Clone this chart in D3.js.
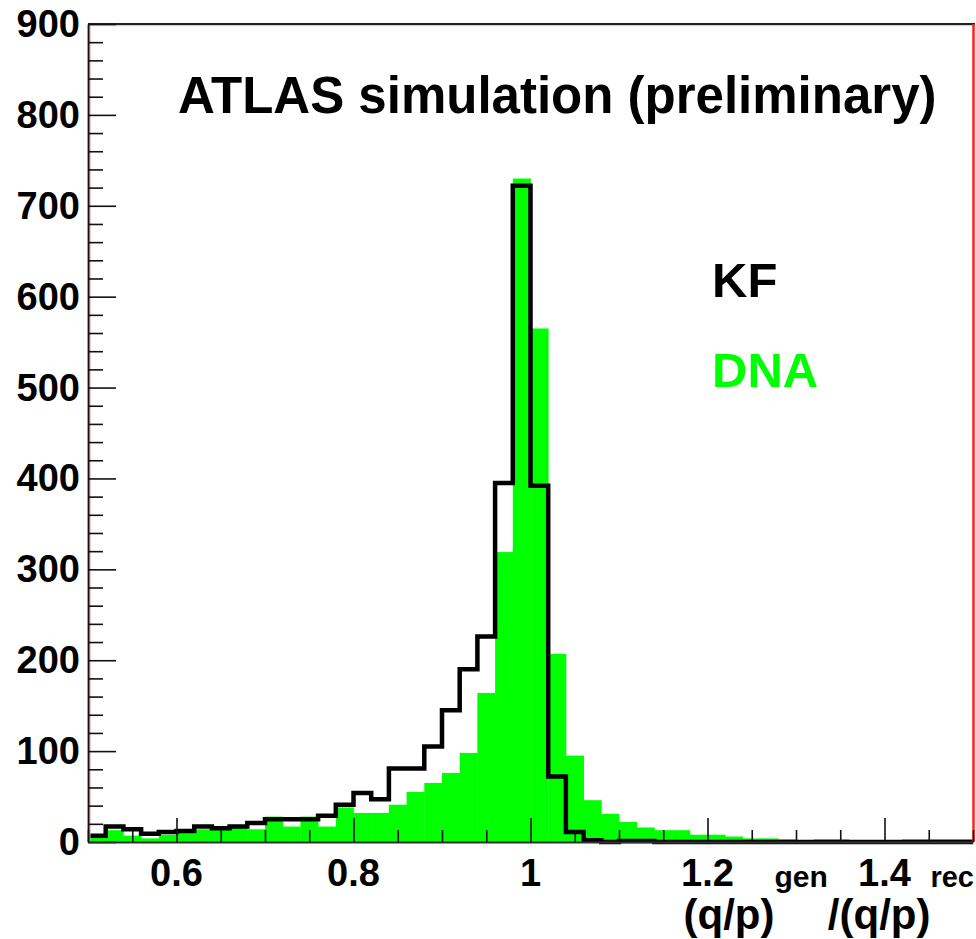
<!DOCTYPE html>
<html>
<head>
<meta charset="utf-8">
<script src="https://cdn.jsdelivr.net/npm/d3@7"></script>
<style>
  html, body { margin: 0; padding: 0; background: #fff; }
  svg { display: block; }
  text { font-family: "Liberation Sans", Arial, sans-serif; font-weight: bold; }
</style>
</head>
<body>
<svg id="chart" width="976" height="939"></svg>
<script>
// histogram binning: 50 bins of 0.02 between 0.5 and 1.5
var xDomain = [0.5, 1.5];
var yDomain = [0, 900];
var binLow = d3.range(50).map(function(i) { return +(0.5 + i * 0.02).toFixed(2); });
var binWidth = 0.02;

// KF (black outline) counts per bin
var kfCounts = [7, 17, 14, 9, 11, 12, 17, 15, 17, 21,
                25, 25, 25, 29, 41, 54, 47, 81, 81, 105,
                145, 190, 226, 395, 722, 392, 72, 11, 2, 0,
                1, 1, 0, 0, 0, 0, 0, 0, 0, 0,
                0, 0, 0, 0, 0, 0, 0, 0, 0, 0];

// DNA (green fill) counts per bin
var dnaCounts = [5, 13, 7, 4, 8, 13, 14, 15, 16, 14,
                 28, 17, 28, 17, 38, 32, 32, 41, 55, 65,
                 76, 98, 164, 319, 730, 565, 207, 95, 46, 31,
                 22, 16, 13, 13, 8, 8, 6, 4, 4, 3,
                 1, 3, 3, 1, 0, 1, 3, 3, 3, 3];

var xTickLabels = [0.6, 0.8, 1, 1.2, 1.4];
var yTickLabels = [0, 100, 200, 300, 400, 500, 600, 700, 800, 900];
var legendNames = ["KF", "DNA"];
var legendColors = ["#000000", "#00ff00"];

var cfg = {left: 88, right: 973, top: 24, bottom: 842};

var svg = d3.select("#chart");
var x = d3.scaleLinear().domain(xDomain).range([cfg.left, cfg.right]);
var y = d3.scaleLinear().domain(yDomain).range([cfg.bottom, cfg.top]);

// DNA filled bars
svg.append("g").selectAll("rect")
  .data(binLow)
  .enter().append("rect")
  .attr("x", function(d) { return x(d); })
  .attr("width", function(d) { return x(d + binWidth) - x(d) + 0.4; })
  .attr("y", function(d, i) { return y(dnaCounts[i]); })
  .attr("height", function(d, i) { return y(0) - y(dnaCounts[i]); })
  .attr("fill", "#00ff00");

// KF step outline
var kfPath = "";
binLow.forEach(function(d, i) {
  var yy = y(kfCounts[i]);
  kfPath += (i === 0 ? "M" + x(d) + "," + yy : "V" + yy) + "H" + x(d + binWidth);
});
svg.append("path")
  .attr("d", kfPath)
  .attr("fill", "none")
  .attr("stroke", "#000")
  .attr("stroke-width", 4.5)
  .attr("stroke-linejoin", "miter");

// frame
svg.append("line").attr("x1", cfg.left).attr("x2", cfg.right + 2)
  .attr("y1", cfg.top + 1.5).attr("y2", cfg.top + 1.5)
  .attr("stroke", "#f3c8c8").attr("stroke-width", 1.5);
svg.append("line").attr("x1", cfg.left).attr("x2", cfg.right + 2)
  .attr("y1", cfg.top).attr("y2", cfg.top)
  .attr("stroke", "#222").attr("stroke-width", 2);
svg.append("line").attr("x1", cfg.left + 1.8).attr("x2", cfg.left + 1.8)
  .attr("y1", cfg.top).attr("y2", cfg.bottom)
  .attr("stroke", "#e8a0a0").attr("stroke-width", 1.5);
svg.append("line").attr("x1", cfg.right + 0.5).attr("x2", cfg.right + 0.5)
  .attr("y1", cfg.top).attr("y2", cfg.bottom)
  .attr("stroke", "#ff2020").attr("stroke-width", 2.5);

// y axis, ticks inside
var yAxis = d3.axisRight(y)
  .tickValues(d3.range(0, 901, 20))
  .tickSize(0)
  .tickFormat("");
var gy = svg.append("g").attr("transform", "translate(" + cfg.left + ",0)").call(yAxis);
gy.select(".domain").attr("stroke", "#111").attr("stroke-width", 1.8);
gy.selectAll(".tick line")
  .attr("x2", function(d) { return d % 100 === 0 ? 28 : 15; })
  .attr("stroke", "#111").attr("stroke-width", 1.6);
svg.append("g").selectAll("text")
  .data(yTickLabels)
  .enter().append("text")
  .attr("x", cfg.left - 8)
  .attr("y", function(d) { return y(d) + 13; })
  .attr("text-anchor", "end")
  .attr("font-size", 38)
  .attr("fill", "#000")
  .text(function(d) { return d; });

// x axis, ticks inside
var xAxis = d3.axisTop(x)
  .tickValues(d3.range(0.5, 1.5001, 0.05))
  .tickSize(0)
  .tickFormat("");
var gx = svg.append("g").attr("transform", "translate(0," + cfg.bottom + ")").call(xAxis);
gx.select(".domain").attr("stroke", "#333").attr("stroke-width", 1.8);
gx.selectAll(".tick line")
  .attr("y2", function(d) { return Math.abs(d * 5 - Math.round(d * 5)) < 1e-6 ? -24 : -12; })
  .attr("stroke", "#111").attr("stroke-width", 1.6);
svg.append("g").selectAll("text")
  .data(xTickLabels)
  .enter().append("text")
  .attr("x", function(d) { return x(d); })
  .attr("y", cfg.bottom + 44)
  .attr("text-anchor", "middle")
  .attr("font-size", 38)
  .attr("fill", "#000")
  .text(d3.format("~g"));

// axis title
var title = svg.append("text")
  .attr("x", 974)
  .attr("y", 929)
  .attr("text-anchor", "end")
  .attr("font-size", 42)
  .attr("fill", "#000");
title.append("tspan").text("(q/p)");
title.append("tspan").attr("dy", -42).attr("font-size", 30).text("gen");
title.append("tspan").attr("dy", 42).text("/(q/p)");
title.append("tspan").attr("dy", -42).attr("font-size", 29).text("rec");

// header
svg.append("text")
  .attr("x", 178)
  .attr("y", 113)
  .attr("font-size", 51)
  .attr("fill", "#000")
  .text("ATLAS simulation (preliminary)");

// legend
svg.append("g").selectAll("text")
  .data(legendNames)
  .enter().append("text")
  .attr("x", 712)
  .attr("y", function(d, i) { return 297 + i * 90; })
  .attr("font-size", 49)
  .attr("fill", function(d, i) { return legendColors[i]; })
  .text(function(d) { return d; });
</script>
</body>
</html>
